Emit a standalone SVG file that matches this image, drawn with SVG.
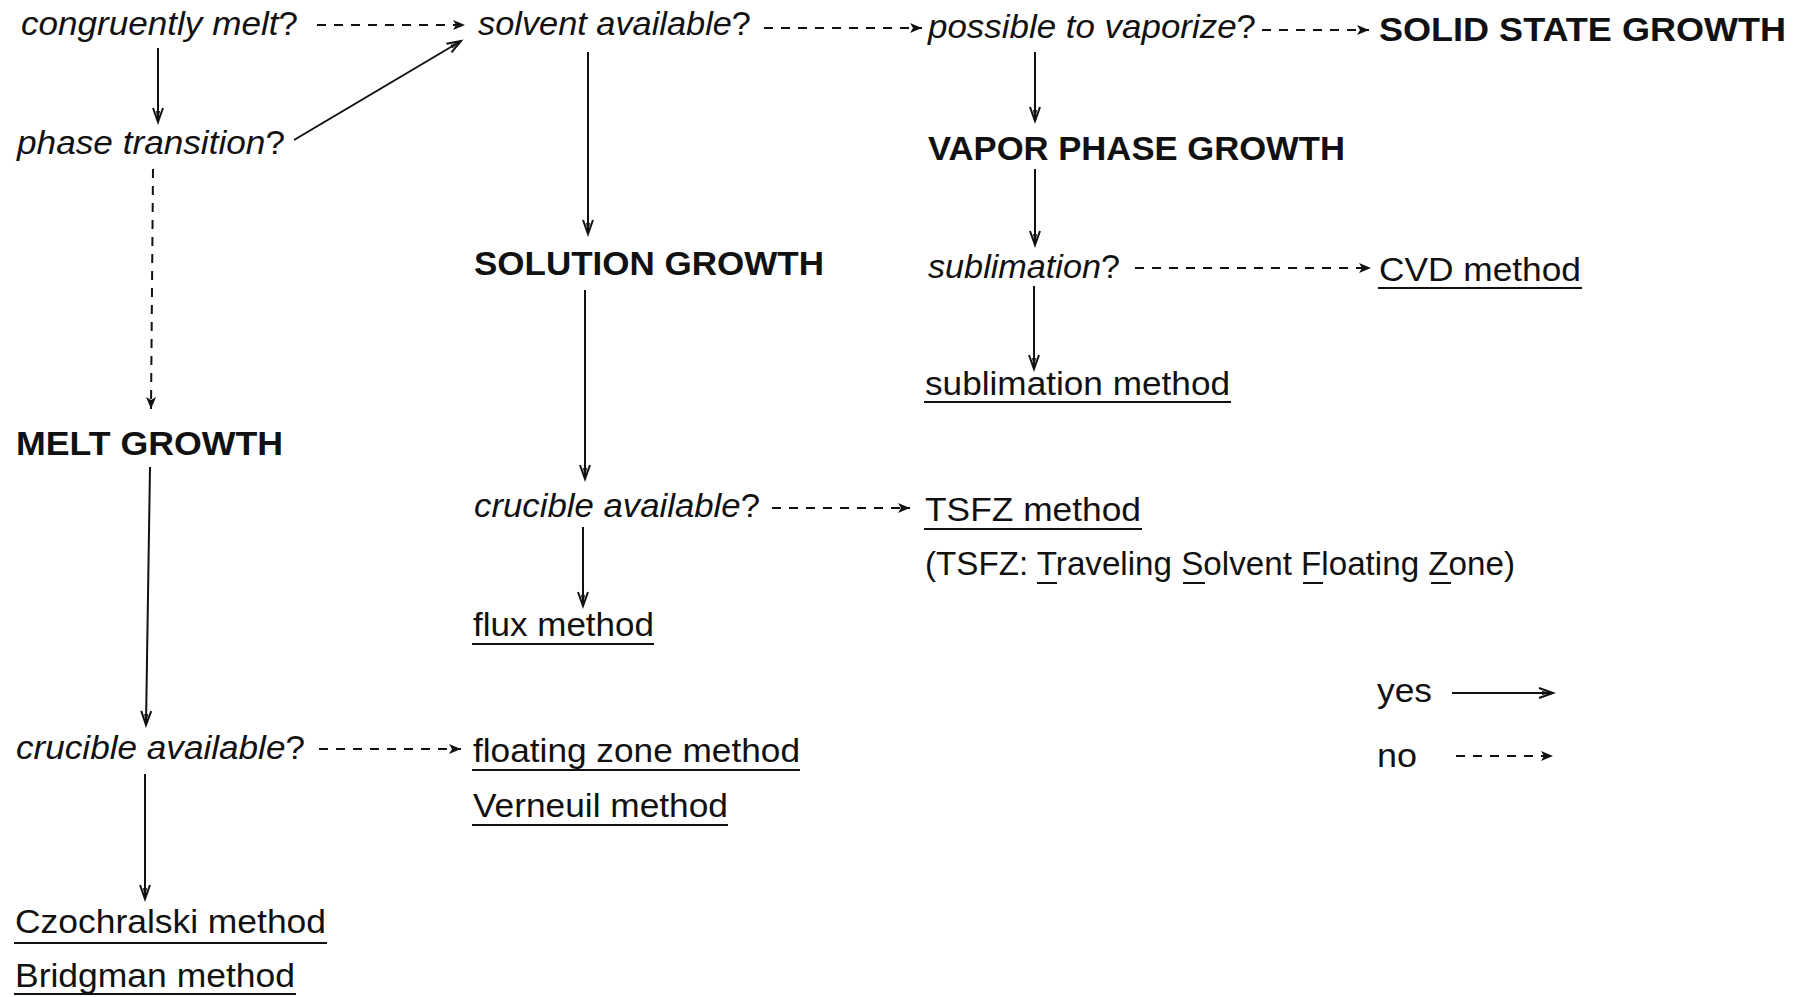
<svg xmlns="http://www.w3.org/2000/svg" width="1807" height="997" viewBox="0 0 1807 997">
<style>
text{font-family:"Liberation Sans",Arial,sans-serif;font-size:34px;fill:#111}
.q{font-style:italic}
.n{font-style:normal}
.b{font-weight:bold}
.u{stroke:#111;stroke-width:2}
.c{fill:none;stroke:#111;stroke-width:2}
.s{marker-end:url(#ho)}
.d{stroke-dasharray:9 8;marker-end:url(#hf)}
</style>
<defs>
<marker id="ho" markerUnits="userSpaceOnUse" markerWidth="20" markerHeight="14" refX="15" refY="7" orient="auto" viewBox="0 0 20 14">
<path d="M1,2 L15,7 L1,12" fill="none" stroke="#111" stroke-width="2" stroke-linejoin="miter"/>
<path d="M4,5 L14,7 L4,9 z" fill="#111"/>
</marker>
<marker id="hf" markerUnits="userSpaceOnUse" markerWidth="20" markerHeight="14" refX="14" refY="7" orient="auto" viewBox="0 0 20 14">
<path d="M2,2 L14,7 L2,12 L5,7 z" fill="#111"/>
</marker>
</defs>
<rect width="1807" height="997" fill="#fff"/>
<g id="connectors">
<path class="c d" d="M317,25 L465,25"/>
<path class="c s" d="M158,48 L158,122"/>
<path class="c s" d="M294,140 L461,41"/>
<path class="c d" d="M153,169 L151,409"/>
<path class="c d" d="M764,28 L922,28"/>
<path class="c s" d="M588,52 L588,234"/>
<path class="c d" d="M1262,30 L1369,30"/>
<path class="c s" d="M1035,52 L1035,121"/>
<path class="c s" d="M1035,169 L1035,245"/>
<path class="c d" d="M1135,268 L1371,268"/>
<path class="c s" d="M1034,286 L1034,369"/>
<path class="c s" d="M585,290 L585,479"/>
<path class="c d" d="M772,508 L910,508"/>
<path class="c s" d="M583,527 L583,606"/>
<path class="c s" d="M150,467 L146,725"/>
<path class="c d" d="M319,749 L461,749"/>
<path class="c s" d="M145,774 L145,899"/>
</g>
<g id="n-congruently"><text class="q" x="21" y="35" textLength="277" lengthAdjust="spacingAndGlyphs">congruently melt<tspan class="n">?</tspan></text></g>
<g id="n-solvent"><text class="q" x="478" y="35" textLength="273" lengthAdjust="spacingAndGlyphs">solvent available<tspan class="n">?</tspan></text></g>
<g id="n-vaporize"><text class="q" x="928" y="38" textLength="328" lengthAdjust="spacingAndGlyphs">possible to vaporize<tspan class="n">?</tspan></text></g>
<g id="n-solid"><text class="b" x="1379" y="41" textLength="407" lengthAdjust="spacingAndGlyphs">SOLID STATE GROWTH</text></g>
<g id="n-phase"><text class="q" x="17" y="154" textLength="268" lengthAdjust="spacingAndGlyphs">phase transition<tspan class="n">?</tspan></text></g>
<g id="n-vapor"><text class="b" x="928" y="160" textLength="417" lengthAdjust="spacingAndGlyphs">VAPOR PHASE GROWTH</text></g>
<g id="n-solution"><text class="b" x="474" y="275" textLength="350" lengthAdjust="spacingAndGlyphs">SOLUTION GROWTH</text></g>
<g id="n-sublimationq"><text class="q" x="928" y="278" textLength="192" lengthAdjust="spacingAndGlyphs">sublimation<tspan class="n">?</tspan></text></g>
<g id="n-cvd"><text x="1379" y="281" textLength="202" lengthAdjust="spacingAndGlyphs">CVD method</text><line class="u" x1="1378" y1="288" x2="1582" y2="288"/></g>
<g id="n-sublimation"><text x="925" y="395" textLength="305" lengthAdjust="spacingAndGlyphs">sublimation method</text><line class="u" x1="924" y1="402" x2="1231" y2="402"/></g>
<g id="n-melt"><text class="b" x="16" y="455" textLength="267" lengthAdjust="spacingAndGlyphs">MELT GROWTH</text></g>
<g id="n-crucible1"><text class="q" x="474" y="517" textLength="286" lengthAdjust="spacingAndGlyphs">crucible available<tspan class="n">?</tspan></text></g>
<g id="n-tsfz"><text x="925" y="521" textLength="216" lengthAdjust="spacingAndGlyphs">TSFZ method</text><line class="u" x1="924" y1="529" x2="1142" y2="529"/>
<text x="925" y="575" style="font-size:33px" textLength="590" lengthAdjust="spacingAndGlyphs">(TSFZ: Traveling Solvent Floating Zone)</text>
<line class="u" x1="1037" y1="583" x2="1057" y2="583"/>
<line class="u" x1="1183" y1="583" x2="1205" y2="583"/>
<line class="u" x1="1303" y1="583" x2="1323" y2="583"/>
<line class="u" x1="1431" y1="583" x2="1451" y2="583"/>
</g>
<g id="n-flux"><text x="473" y="636" textLength="181" lengthAdjust="spacingAndGlyphs">flux method</text><line class="u" x1="472" y1="644" x2="654" y2="644"/></g>
<g id="n-crucible2"><text class="q" x="16" y="759" textLength="289" lengthAdjust="spacingAndGlyphs">crucible available<tspan class="n">?</tspan></text></g>
<g id="n-floating"><text x="473" y="762" textLength="327" lengthAdjust="spacingAndGlyphs">floating zone method</text><line class="u" x1="472" y1="770" x2="800" y2="770"/></g>
<g id="n-verneuil"><text x="473" y="817" textLength="255" lengthAdjust="spacingAndGlyphs">Verneuil method</text><line class="u" x1="472" y1="825" x2="728" y2="825"/></g>
<g id="n-czochralski"><text x="15" y="933" textLength="311" lengthAdjust="spacingAndGlyphs">Czochralski method</text><line class="u" x1="14" y1="943" x2="327" y2="943"/></g>
<g id="n-bridgman"><text x="15" y="987" textLength="280" lengthAdjust="spacingAndGlyphs">Bridgman method</text><line class="u" x1="14" y1="994" x2="296" y2="994"/></g>
<g id="legend">
<text x="1377" y="702" textLength="55" lengthAdjust="spacingAndGlyphs">yes</text>
<text x="1377" y="767" textLength="40" lengthAdjust="spacingAndGlyphs">no</text>
<path class="c s" d="M1452,693 L1553,693"/>
<path class="c d" d="M1456,756 L1553,756"/>
</g>
</svg>
